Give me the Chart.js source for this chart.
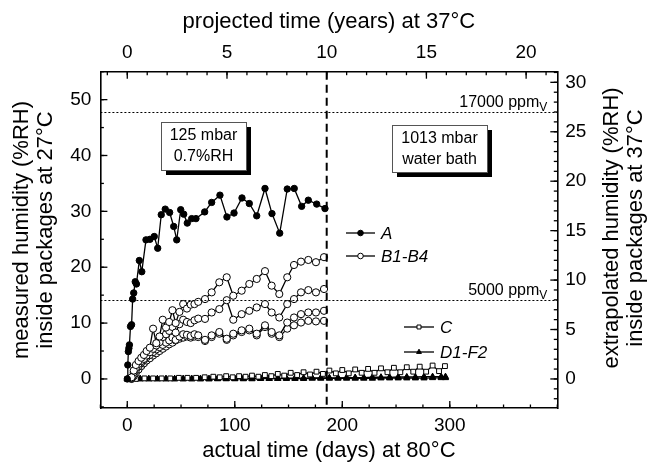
<!DOCTYPE html>
<html><head><meta charset="utf-8">
<script src="https://cdn.jsdelivr.net/npm/chart.js@4/dist/chart.umd.min.js"></script>
<style>html,body{margin:0;padding:0;background:#fff}#wrap{width:655px;height:468px;position:relative}</style>
</head><body><div id="wrap"><canvas id="c" width="655" height="468"></canvas></div>
<script>
// ---- tick labels ----
const xTicks  = [0, 100, 200, 300];          // actual time (days) at 80°C
const x2Ticks = [0, 5, 10, 15, 20];          // projected time (years) at 37°C
const yTicks  = [0, 10, 20, 30, 40, 50];     // measured humidity (%RH) at 27°C
const y2Ticks = [0, 5, 10, 15, 20, 25, 30];  // extrapolated humidity (%RH) at 37°C

// ---- conversions / reference values ----
const daysPer10Years = 185.5;   // 10 projected years = 185.5 days at 80°C
const rhRatio = 0.565;          // %RH at 37°C per %RH at 27°C
const refLevels = [47.7, 14.1]; // 17000 ppmV, 5000 ppmV
const refLabels = ['17000 ppm', '5000 ppm'];
const boundaryDay = 185.5;      // 125 mbar -> 1013 mbar water bath

// ---- series A ----
const aDays = [0,0.5,1,1.5,2,3,4,5,6,7.4,8.5,11.2,13.5,17.4,21.1,25.1,28.3,31.6,35.3,39.4,43.2,46,49.7,52.5,55.8,59.9,63.9,72,78.5,86.2,92.7,99.3,106.7,113.5,120.4,128.1,134.6,141.8,148.8,155.3,162.2,168.4,176.2,183.9];
const aVals = [0,2.5,4.9,5.5,6.1,9.4,9.7,14.3,15.4,17.4,17.0,21.2,19.2,24.9,25.0,25.5,23.4,29.4,30.4,29.8,27.3,24.9,30.3,29.5,27.9,28.7,28.7,29.9,31.6,32.9,29.0,29.7,32.4,31.4,29.2,34.1,29.6,26.1,34.0,34.1,30.9,32.0,31.3,30.5];

// ---- series B1-B4 ----
const bDays  = [4,6,8,10.5,13,15.5,18,21,24,27,30,33,36,39,42,45,48.5,52,55.5,59,62.5,66,72.3,78.5,85.6,92.5,98.6,106.4,113.5,120.4,128.1,134.3,141.4,148.8,155.1,161.6,168.4,175.5,183];
const b1Vals = [0.3,1.5,2.5,3.2,3.8,4.3,5.0,5.6,9.0,6.4,7.6,10.6,9.2,10.2,12.3,10.0,12.0,13.4,12.6,13.3,13.4,13.8,14.3,15.5,17.3,18.2,14.9,15.8,17.0,17.9,19.3,16.7,15.2,18.2,20.4,21.0,21.3,20.9,21.8];
const b2Vals = [0.2,1.2,2.0,2.7,3.2,3.6,4.2,4.8,5.4,6.0,6.6,7.5,8.0,8.6,9.3,8.3,9.8,10.6,10.2,10.0,10.5,10.8,10.75,11.9,12.5,14.1,10.6,11.6,12.2,12.8,13.4,11.9,11.0,13.4,14.3,15.5,15.9,15.5,16.1];
const b3Vals = [0.1,0.8,1.6,2.3,2.9,3.4,3.9,4.3,4.8,5.3,5.7,6.1,6.5,6.9,7.4,7.0,7.6,8.0,7.9,7.7,8.0,7.8,7.0,7.8,8.4,7.2,8.1,8.7,9.0,8.1,9.6,8.4,7.8,10.1,11.0,11.6,11.9,11.9,12.2];
const b4Vals = [0.0,0.5,1.1,1.7,2.3,2.8,3.3,3.7,4.2,4.6,5.0,5.4,5.8,6.2,6.5,6.9,7.2,7.4,7.6,7.4,7.6,7.5,6.8,7.5,8.1,7.0,7.8,8.4,8.7,7.8,9.3,8.1,7.5,9.0,9.6,10.1,10.4,10.3,10.4];

// ---- series C ----
const cDays = [0,8,16,24,32,40,48,56,64,72,80,86,92,98,104,110,116,122,128,134,140,146,152,158,164,170,176,182,188,194,200,206,212,218,224,230,236,242,248,254,260,266,272,278,284,290,295.5];
const cVals = [0,0,0.1,0.1,0.1,0.1,0.2,0.2,0.2,0.3,0.4,0.3,0.5,0.3,0.5,0.4,0.6,0.4,0.7,0.5,0.9,0.6,1.1,0.7,1.2,0.8,1.3,0.9,1.5,1.0,1.6,1.0,1.7,1.1,1.8,1.1,1.9,1.2,2.0,1.2,2.1,1.3,2.2,1.3,2.4,1.4,2.3];

// ---- series D1-F2 ----
const dDays  = [0,1,2,4,12,20,28,36,44,52,60,68,76,84,92,100,108,116,124,132,140,148,156,164,172,180,188,196,204,212,220,228,236,244,252,260,268,276,284,292,296];
const d1Vals = [0,0,0,0,0,0,0,0,0,0,0,0,0,0.05,0.05,0.05,0.1,0.1,0.1,0.1,0.1,0.15,0.15,0.15,0.2,0.2,0.2,0.2,0.25,0.25,0.25,0.3,0.3,0.3,0.35,0.35,0.35,0.4,0.4,0.4,0.4];
const d2Vals = [0,0,0,0,0,0,0,0,0,0,0,0,0,0,0,0,0,0,0.05,0.05,0.05,0.05,0.05,0.05,0.1,0.1,0.1,0.1,0.1,0.1,0.1,0.1,0.15,0.15,0.15,0.15,0.15,0.15,0.2,0.2,0.2];

const FONT = '"Liberation Sans", Arial, Helvetica, sans-serif';
const pts = (d, v) => d.map((x, i) => ({x: x, y: v[i]}));

function series(label, d, v, style, filled, r) {
  return {label, data: pts(d, v), showLine: true, borderColor: '#000', borderWidth: 1.3,
    pointStyle: style, pointRadius: r, pointBorderWidth: 1, pointBorderColor: '#000',
    pointBackgroundColor: filled ? '#000' : '#fff', backgroundColor: filled ? '#000' : '#fff', tension: 0};
}

const datasets = [
  series('A', aDays, aVals, 'circle', true, 3.2),
  series('B1', bDays, b1Vals, 'circle', false, 3.6),
  series('B2', bDays, b2Vals, 'circle', false, 3.6),
  series('B3', bDays, b3Vals, 'circle', false, 3.6),
  series('B4', bDays, b4Vals, 'circle', false, 3.6),
  series('C', cDays, cVals, 'rect', false, 3.4),
  series('D1', dDays, d1Vals, 'triangle', true, 3.6),
  series('D2', dDays, d2Vals, 'triangle', true, 3.6)
];

function drawMarker(ctx, style, filled, r, x, y) {
  ctx.save();
  ctx.beginPath();
  if (style === 'circle') ctx.arc(x, y, r, 0, Math.PI * 2);
  else if (style === 'rect') { const s = r / Math.SQRT2 * 1.0; ctx.rect(x - s, y - s, 2 * s, 2 * s); }
  else if (style === 'triangle') {
    ctx.moveTo(x, y - r); ctx.lineTo(x + r * 0.866, y + r * 0.5); ctx.lineTo(x - r * 0.866, y + r * 0.5); ctx.closePath();
  }
  ctx.fillStyle = filled ? '#000' : '#fff'; ctx.fill();
  ctx.lineWidth = 1; ctx.strokeStyle = '#000'; ctx.stroke();
  ctx.restore();
}

const decor = {
  id: 'decor',
  afterDraw(chart) {
    const ctx = chart.ctx, ca = chart.chartArea, s = chart.scales;
    ctx.save();
    // reference (ppmV) dotted lines
    ctx.strokeStyle = '#000'; ctx.lineWidth = 1; ctx.setLineDash([2, 2]);
    refLevels.forEach(v => {
      const y = Math.round(s.y.getPixelForValue(v)) + 0.5;
      ctx.beginPath(); ctx.moveTo(ca.left, y); ctx.lineTo(ca.right, y); ctx.stroke();
    });
    ctx.setLineDash([]);
    // reference labels
    ctx.fillStyle = '#000';
    refLevels.forEach((v, i) => {
      const y = s.y.getPixelForValue(v);
      ctx.font = '12px ' + FONT; const wv = ctx.measureText('V').width;
      const xr = ca.right - 10;
      ctx.textBaseline = 'alphabetic'; ctx.textAlign = 'right';
      ctx.fillText('V', xr, y - 1);
      ctx.font = '16px ' + FONT;
      ctx.fillText(refLabels[i], xr - wv, y - 5);
    });
    // boundary dashed line
    const xb = s.x.getPixelForValue(boundaryDay);
    ctx.lineWidth = 2; ctx.setLineDash([8, 5]);
    ctx.beginPath(); ctx.moveTo(xb, ca.top); ctx.lineTo(xb, ca.bottom); ctx.stroke();
    ctx.setLineDash([]);
    // text boxes with shadow
    const boxes = [
      {x: 161, y: 122, w: 85, h: 48, lines: ['125 mbar', '0.7%RH']},
      {x: 392, y: 125, w: 95, h: 47, lines: ['1013 mbar', 'water bath']}
    ];
    boxes.forEach(b => {
      ctx.fillStyle = '#000'; ctx.fillRect(b.x + 5, b.y + 5, b.w, b.h);
      ctx.fillStyle = '#fff'; ctx.fillRect(b.x, b.y, b.w, b.h);
      ctx.strokeStyle = '#555'; ctx.lineWidth = 1; ctx.strokeRect(b.x + 0.5, b.y + 0.5, b.w, b.h);
      ctx.fillStyle = '#000'; ctx.font = '16px ' + FONT; ctx.textAlign = 'center'; ctx.textBaseline = 'middle';
      ctx.fillText(b.lines[0], b.x + b.w / 2, b.y + 14);
      ctx.fillText(b.lines[1], b.x + b.w / 2, b.y + 35);
    });
    // legend
    const leg = [
      {x1: 346, x2: 375, y: 233, ds: 0, style: 'circle', filled: true, text: 'A'},
      {x1: 346, x2: 375, y: 256, ds: 1, style: 'circle', filled: false, text: 'B1-B4'},
      {x1: 404, x2: 434, y: 327, ds: 5, style: 'rect', filled: false, text: 'C'},
      {x1: 404, x2: 434, y: 352, ds: 6, style: 'triangle', filled: true, text: 'D1-F2'}
    ];
    leg.forEach(l => {
      ctx.strokeStyle = '#000'; ctx.lineWidth = 1.3;
      ctx.beginPath(); ctx.moveTo(l.x1, l.y); ctx.lineTo(l.x2, l.y); ctx.stroke();
      drawMarker(ctx, l.style, l.filled, 2.8, (l.x1 + l.x2) / 2, l.y);
      ctx.fillStyle = '#000'; ctx.font = 'italic 17px ' + FONT; ctx.textAlign = 'left'; ctx.textBaseline = 'middle';
      ctx.fillText(l.text, l.x2 + 6, l.y + 1);
    });
    // inward ticks
    const tick = (scale, majors, minorStep, side) => {
      const draw = (v, len) => {
        const p = scale.getPixelForValue(v);
        ctx.beginPath();
        if (side === 'bottom') { ctx.moveTo(p, ca.bottom); ctx.lineTo(p, ca.bottom - len); }
        if (side === 'top') { ctx.moveTo(p, ca.top); ctx.lineTo(p, ca.top + len); }
        if (side === 'left') { ctx.moveTo(ca.left, p); ctx.lineTo(ca.left + len, p); }
        if (side === 'right') { ctx.moveTo(ca.right, p); ctx.lineTo(ca.right - len, p); }
        ctx.stroke();
      };
      ctx.strokeStyle = '#000'; ctx.lineWidth = 1.3;
      for (let k = Math.ceil(scale.min / minorStep); k * minorStep <= scale.max + 1e-9; k++) draw(k * minorStep, 3.5);
      majors.forEach(v => draw(v, 7));
    };
    tick(s.x, xTicks, 25, 'bottom');
    tick(s.x2, x2Ticks, 1, 'top');
    tick(s.y, yTicks, 5, 'left');
    tick(s.y2, y2Ticks, 1, 'right');
    // axis titles
    ctx.fillStyle = '#000'; ctx.font = '22px ' + FONT; ctx.textAlign = 'center'; ctx.textBaseline = 'middle';
    const cx = (ca.left + ca.right) / 2;
    ctx.fillText('projected time (years) at 37°C', cx, 22);
    ctx.fillText('actual time (days) at 80°C', cx, 451);
    const rot = (t1, t2, x1, x2, y) => {
      [[t1, x1], [t2, x2]].forEach(([t, x]) => {
        ctx.save(); ctx.translate(x, y); ctx.rotate(-Math.PI / 2); ctx.fillText(t, 0, 0); ctx.restore();
      });
    };
    rot('measured humidity (%RH)', 'inside packages at 27°C', 22, 46, 230);
    rot('extrapolated humidity (%RH)', 'inside packages at 37°C', 612, 636, 228);
    ctx.restore();
  }
};

const tickFont = {family: FONT, size: 19};
const axisBase = (extra) => Object.assign({
  type: 'linear', grid: {display: false, drawTicks: false},
  border: {display: true, color: '#000', width: 1.6}
}, extra);

new Chart(document.getElementById('c'), {
  type: 'scatter',
  data: {datasets},
  options: {
    responsive: false, animation: false, events: [],
    layout: {padding: 0},
    plugins: {legend: {display: false}, tooltip: {enabled: false}},
    scales: {
      x: axisBase({position: 'bottom', min: -25, max: 400,
        afterBuildTicks: sc => { sc.ticks = xTicks.map(v => ({value: v})); },
        afterFit: sc => { sc.height = 60; },
        ticks: {font: tickFont, color: '#000', padding: 6, maxRotation: 0, autoSkip: false}}),
      x2: axisBase({position: 'top', min: -25 * 10 / daysPer10Years, max: 400 * 10 / daysPer10Years,
        afterBuildTicks: sc => { sc.ticks = x2Ticks.map(v => ({value: v})); },
        afterFit: sc => { sc.height = 71.7; },
        ticks: {font: tickFont, color: '#000', padding: 8, maxRotation: 0, autoSkip: false}}),
      y: axisBase({position: 'left', min: -5.2, max: 55,
        afterBuildTicks: sc => { sc.ticks = yTicks.map(v => ({value: v})); },
        afterFit: sc => { sc.width = 100.4; },
        ticks: {font: tickFont, color: '#000', padding: 9, autoSkip: false}}),
      y2: axisBase({position: 'right', min: -5.2 * rhRatio, max: 55 * rhRatio,
        afterBuildTicks: sc => { sc.ticks = y2Ticks.map(v => ({value: v})); },
        afterFit: sc => { sc.width = 97.7; },
        ticks: {font: tickFont, color: '#000', padding: 8, autoSkip: false}})
    }
  },
  plugins: [decor]
});
</script>
</body></html>
